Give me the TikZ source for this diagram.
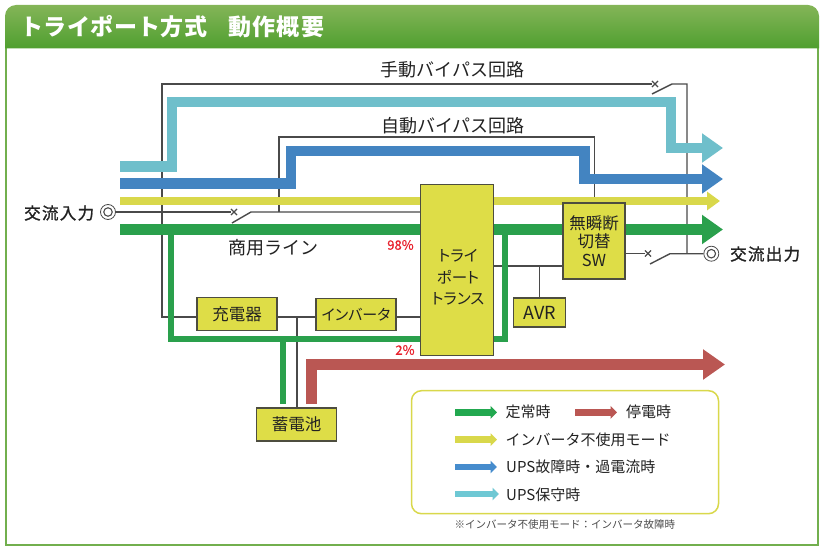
\documentclass[tikz,border=0pt]{standalone}
\usepackage{fontspec}
\setmainfont{Noto Sans CJK JP}
\newfontfamily\palt[RawFeature=+palt]{Noto Sans CJK JP}
\usetikzlibrary{arrows.meta,shapes.misc,backgrounds}
\definecolor{teal1}{HTML}{6FBFCB}
\definecolor{blue1}{HTML}{4384C1}
\definecolor{yel1}{HTML}{D9D84B}
\definecolor{grn1}{HTML}{2AA04C}
\definecolor{red1}{HTML}{BA5753}
\definecolor{gline}{HTML}{4A4A4A}
\definecolor{boxfill}{HTML}{DEDD47}
\definecolor{boxedge}{HTML}{4D4D3F}
\definecolor{framec}{HTML}{72AF4E}
\definecolor{txt}{HTML}{222222}
\definecolor{pctred}{HTML}{E8202C}
\definecolor{headtop}{HTML}{84B558}
\definecolor{headmid}{HTML}{7CB050}
\definecolor{headbot}{HTML}{4F9F2F}
\newcommand{\fs}[2]{\fontsize{#1}{#2}\selectfont}
\tikzset{
  wire/.style={draw=gline,line width=1.4pt},
  flow/.style={line width=#1,line join=miter},
  bighead/.style={-{Triangle[length=21pt,width=28pt]}},
  legarrow/.style={line width=6.5pt,-{Triangle[length=6.5pt,width=12.5pt]}},
  unit/.style={draw=boxedge,fill=boxfill,line width=1.5pt,inner sep=0pt,align=center,text=txt},
  tag/.style={inner sep=0pt,text=txt,font=\fs{18}{21}},
  legtext/.style={inner sep=0pt,anchor=west,text=txt,font=\fs{15}{18}},
  pct/.style={inner sep=0pt,text=pctred,font=\fs{13}{15}},
  ringo/.style={circle,draw=gline,line width=.8pt,minimum size=15pt,inner sep=0pt},
  ringi/.style={circle,draw=gline,line width=1.1pt,minimum size=8.5pt,inner sep=0pt},
  xmark/.style={cross out,draw=gline,line width=1.1pt,minimum size=5pt,inner sep=0pt},
}
\begin{document}
\begin{tikzpicture}[x=1pt,y=-1pt]
\useasboundingbox (0,0) rectangle (824,551);
% header
\shade[top color=headtop,middle color=headmid,bottom color=headbot,rounded corners=11pt]
  (5,30) -- (5,5) -- (819,5) -- (819,30) [sharp corners] -- (819,48.5) -- (5,48.5) -- cycle;
\node[inner sep=0pt,anchor=west,text=white,font=\fs{23}{26}\bfseries] (title1) at (20,27) {\addfontfeature{LetterSpace=2}トライポート方式};
\node[inner sep=0pt,anchor=west,text=white,font=\fs{23}{26}\bfseries] (title2) at (228,27) {\addfontfeature{LetterSpace=6}動作概要};
% units
\node[unit,minimum width=73pt,minimum height=171pt] (trans) at (457,270) {};
\node[inner sep=0pt,align=center,text=txt,font=\fs{15.5}{21.5}\palt] (translabel) at (458,277.5) {トライ\\ポート\\トランス};
\node[unit,minimum width=62pt,minimum height=76pt,font=\fs{16.5}{18.5}] (sw) at (594,241) {無瞬断\\切替\\SW};
\node[unit,minimum width=80pt,minimum height=33pt,font=\fs{16.5}{20}] (charger) at (237,314) {充電器};
\node[unit,minimum width=80pt,minimum height=32pt,font=\fs{15}{18}\palt] (inv) at (356,314.5) {インバータ};
\node[unit,minimum width=52pt,minimum height=29pt,font=\fs{18}{20}] (avr) at (539.7,312.5) {AVR};
\node[unit,minimum width=80pt,minimum height=33pt,font=\fs{16.5}{20}] (batt) at (296.5,424.5) {蓄電池};
% rings, switch contacts
\node[ringo] (inring) at (108,212) {};
\node[ringi] (inringi) at (108,212) {};
\node[ringo] (outring) at (711.3,253.7) {};
\node[ringi] (outringi) at (711.3,253.7) {};
\node[xmark] (xin) at (234,212) {};
\node[xmark] (xman) at (655,84) {};
\node[xmark] (xsw) at (648,253.5) {};
% junctions
\coordinate (a1) at (251,212);
\coordinate (a0) at (232,223);
\coordinate (a2) at (279,212);
\coordinate (a3) at (279,137);
\coordinate (a4) at (594.7,137);
\coordinate (m0) at (162,317);
\coordinate (m1) at (162,84);
\coordinate (m2) at (652,94);
\coordinate (m3) at (672,84);
\coordinate (m4) at (687,84);
\coordinate (m5) at (687,253.7);
\coordinate (s0) at (650,264);
\coordinate (s1) at (670,253.7);
\coordinate (j1) at (297,317);
\coordinate (j2) at (539.7,266);
\begin{pgfonlayer}{background}
% frame
\draw[framec,line width=2pt,fill=white] (6,40) -- (6,544.5) -- (818,544.5) -- (818,40);
% wires
\draw[wire] (inring) -- (xin);
\draw[wire] (a0) -- (a1) -- (trans.west |- a1);
\draw[wire] (a2) -- (a3) -- (a4) -- (sw.north -| a4);
\draw[wire] (charger.west |- m0) -- (m0) -- (m1) -- (xman);
\draw[wire] (m2) -- (m3) -- (m4) -- (m5);
\draw[wire] (sw.east |- xsw) -- (xsw);
\draw[wire] (s0) -- (s1) -- (outring);
\draw[wire] (charger.east |- j1) -- (inv.west |- j1);
\draw[wire] (inv.east |- j1) -- (trans.west |- j1);
\draw[wire] (j1) -- (batt.north -| j1);
\draw[wire] (trans.east |- j2) -- (sw.west |- j2);
\draw[wire] (j2) -- (avr.north -| j2);
% power flows
\coordinate (tl0) at (120,166.5);
\coordinate (tl1) at (172,166.5);
\coordinate (tl2) at (172,102);
\coordinate (tl3) at (671,102);
\coordinate (tl4) at (671,148);
\coordinate (tl5) at (723,148);
\draw[flow=10.5pt,teal1,bighead] (tl0) -- (tl1) -- (tl2) -- (tl3) -- (tl4) -- (tl5);
\coordinate (bl0) at (120,183.5);
\coordinate (bl1) at (291,183.5);
\coordinate (bl2) at (291,151);
\coordinate (bl3) at (584.5,151);
\coordinate (bl4) at (584.5,179);
\coordinate (bl5) at (723,179);
\draw[flow=10.5pt,blue1,bighead] (bl0) -- (bl1) -- (bl2) -- (bl3) -- (bl4) -- (bl5);
\coordinate (yl0) at (120,201);
\coordinate (yl1) at (720,201);
\draw[flow=8pt,yel1,-{Triangle[length=13pt,width=18pt]}] (yl0) -- (yl1);
\coordinate (gl0) at (120,229.5);
\coordinate (gl1) at (723,229.5);
\draw[flow=10.5pt,grn1,bighead] (gl0) -- (gl1);
\coordinate (gd1) at (171,229.5);
\coordinate (gd2) at (171,339);
\coordinate (gd3) at (505,229.5);
\coordinate (gd4) at (505,339);
\draw[flow=6pt,grn1] (gd1) -- (gd2) -- (trans.west |- gd2);
\draw[flow=6pt,grn1] (gd3) -- (gd4) -- (trans.east |- gd4);
\coordinate (gb1) at (283,339);
\coordinate (gb2) at (283,404);
\draw[flow=6pt,grn1] (gb1) -- (gb2);
\coordinate (r0) at (311.5,404);
\coordinate (r1) at (311.5,364.5);
\coordinate (r2) at (725,364.5);
\draw[flow=10.5pt,red1,-{Triangle[length=22pt,width=29pt]}] (r0) -- (r1) -- (r2);
\end{pgfonlayer}
% labels
\node[tag] (lman) at (452.5,70) {手動バイパス回路};
\node[tag] (lauto) at (453,126) {自動バイパス回路};
\node[tag] (lcom) at (273.5,248) {商用ライン};
\node[tag,anchor=west,font=\fs{16.5}{20}] (lin) at (24,213) {\addfontfeature{FakeBold=1.2,LetterSpace=8}交流入力};
\node[tag,anchor=west,font=\fs{16.5}{20}] (lout) at (730,254) {\addfontfeature{FakeBold=1.2,LetterSpace=8}交流出力};
\node[pct] (p98) at (400.5,245) {\addfontfeature{FakeBold=0.5}98\%};
\node[pct] (p2) at (405,350) {\addfontfeature{FakeBold=0.5}2\%};
% legend
\node[draw=yel1,line width=1.5pt,rounded corners=10pt,minimum width=307pt,minimum height=123pt,inner sep=0pt] (legend) at (565,452.2) {};
\coordinate (lg1a) at (455.3,412.3); \coordinate (lg1b) at (497,412.3);
\coordinate (lg2a) at (575,412.3);   \coordinate (lg2b) at (617,412.3);
\coordinate (lg3a) at (455.3,439.7); \coordinate (lg3b) at (497,439.7);
\coordinate (lg4a) at (455.3,467);   \coordinate (lg4b) at (497,467);
\coordinate (lg5a) at (455.3,494);   \coordinate (lg5b) at (499,494);
\draw[legarrow,color={rgb,255:red,34;green,168;blue,79}] (lg1a) -- (lg1b);
\draw[legarrow,red1] (lg2a) -- (lg2b);
\draw[legarrow,yel1] (lg3a) -- (lg3b);
\draw[legarrow,color={rgb,255:red,70;green,140;blue,205}] (lg4a) -- (lg4b);
\draw[legarrow,color={rgb,255:red,110;green,200;blue,212}] (lg5a) -- (lg5b);
\node[legtext] (t1) at (505.5,412) {定常時};
\node[legtext] (t2) at (626,412) {停電時};
\node[legtext] (t3) at (505.5,439.5) {インバータ不使用モード};
\node[legtext] (t4) at (506,467) {UPS故障時・過電流時};
\node[legtext] (t5) at (506,495) {UPS保守時};
\node[inner sep=0pt,anchor=west,text=gline,font=\fs{10.5}{13}] (fn) at (454.5,525) {※インバータ不使用モード：インバータ故障時};
\end{tikzpicture}
\end{document}
